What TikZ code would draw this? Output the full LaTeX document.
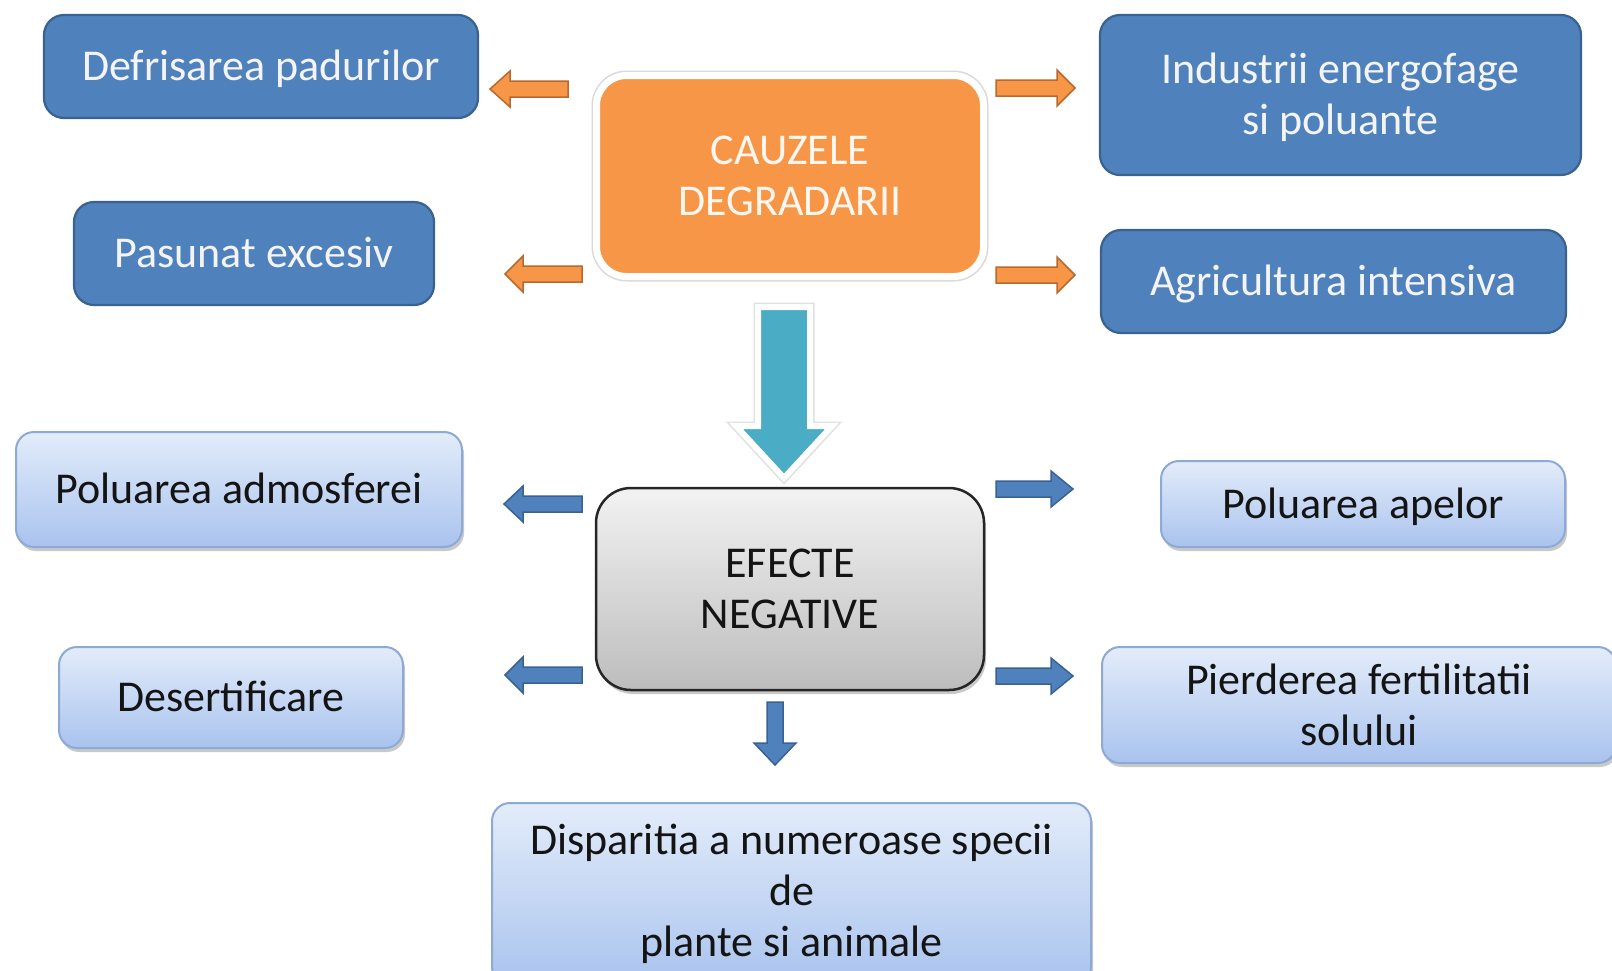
\documentclass[tikz,border=0pt]{standalone}
\usepackage{fontspec}
\setmainfont{Carlito}
\usetikzlibrary{shadows}
\definecolor{dkblue}{HTML}{4F81BD}
\definecolor{dkborder}{HTML}{3A6291}
\definecolor{lttop}{HTML}{E3ECFA}
\definecolor{ltbot}{HTML}{A9C3EE}
\definecolor{ltborder}{HTML}{8DA9D6}
\definecolor{orfill}{HTML}{F79646}
\definecolor{orborder}{HTML}{B9692F}
\definecolor{tealfill}{HTML}{4BACC6}
\definecolor{boxtext}{HTML}{F4F4F4}
\newcommand\diagfont{\fontsize{44}{51}\selectfont}
% horizontal block arrow: style, tail x, head base x, tip x, y
\newcommand\blockarrowH[5]{\draw[#1] (#2,#5-8) -- (#3,#5-8) -- (#3,#5-18) -- (#4,#5) -- (#3,#5+18) -- (#3,#5+8) -- (#2,#5+8) -- cycle;}
% vertical block arrow: style, tail y, head base y, tip y, x
\newcommand\blockarrowV[5]{\draw[#1] (#5-8,#2) -- (#5-8,#3) -- (#5-21,#3) -- (#5,#4) -- (#5+21,#3) -- (#5+8,#3) -- (#5+8,#2) -- cycle;}
\begin{document}
\begin{tikzpicture}[x=1pt,y=-1pt,
  box/.style={rectangle, inner sep=0pt, align=center, font=\diagfont},
  oneline/.style={execute at begin node={\rule{0pt}{40pt}}, execute at end node={\rule[-12pt]{0pt}{12pt}}},
  darkbox/.style={box, draw=dkborder, line width=2.2pt, fill=dkblue, rounded corners=20pt, text=boxtext},
  lightbox/.style={box, draw=ltborder, line width=2pt, top color=lttop, bottom color=ltbot, rounded corners=18pt, text=black!92,
    drop shadow={shadow xshift=2pt, shadow yshift=-4pt, opacity=.35, fill=black!60}},
  causebox/.style={box, fill=orfill, draw=white, line width=7pt, rounded corners=30pt, text=white!94!orange,
    preaction={draw=black!15, line width=10pt}},
  effectbox/.style={box, draw=black!85, line width=2.5pt, top color=black!5, bottom color=black!26, rounded corners=35pt, text=black!92,
    drop shadow={shadow xshift=2pt, shadow yshift=-4pt, opacity=.35, fill=black!60}},
  orarrow/.style={fill=orfill, draw=orborder, line width=1.5pt},
  bluearrow/.style={fill=dkblue, draw=dkborder, line width=1.5pt},
  tealarrow/.style={fill=tealfill, draw=white, line width=6pt, line join=miter,
    preaction={draw=black!12, line width=9pt, line join=miter},
    drop shadow={shadow xshift=1pt, shadow yshift=-3pt, opacity=.25, fill=black!60}}
]
\useasboundingbox (0,0) rectangle (1612,970);
\clip (0,0) rectangle (1612,970);
\fill[white] (0,0) rectangle (1612,970);

% causes
\node[darkbox, oneline, minimum width=434, minimum height=103] (defr) at (261,66.5) {Defrisarea padurilor};
\node[darkbox, oneline, minimum width=360, minimum height=103] (pasu) at (254,253.5) {Pasunat excesiv};
\node[darkbox, minimum width=481, minimum height=160] (indu) at (1340.5,95) {\rule{0pt}{36pt}Industrii energofage\\si poluante};
\node[darkbox, oneline, minimum width=465, minimum height=103] (agri) at (1333.5,281.5) {Agricultura intensiva};
\node[causebox, minimum width=387, minimum height=201] (cauz) at (790,176) {CAUZELE\\DEGRADARII};

% effects
\node[effectbox, minimum width=388, minimum height=202] (efec) at (790,589) {EFECTE\\NEGATIVE};
\node[lightbox, oneline, minimum width=446, minimum height=115] (polad) at (239,489.5) {Poluarea admosferei};
\node[lightbox, oneline, minimum width=344, minimum height=101] (dese) at (231,697.5) {Desertificare};
\node[lightbox, oneline, minimum width=404, minimum height=86] (polap) at (1363,504) {Poluarea apelor};
\node[lightbox, minimum width=514, minimum height=116] (pier) at (1359,705) {Pierderea fertilitatii\\solului};
\node[lightbox, minimum width=599, minimum height=182] (disp) at (791.5,894) {Disparitia a numeroase specii\\de\\plante si animale};

% orange arrows
\blockarrowH{orarrow}{568}{510}{490}{89}
\blockarrowH{orarrow}{582}{523}{505}{274}
\blockarrowH{orarrow}{996}{1057}{1075}{88}
\blockarrowH{orarrow}{996}{1057}{1075}{275}

% big teal arrow
\draw[tealarrow] (758,307) -- (758,426) -- (736,426) -- (784,478) -- (832,426) -- (810,426) -- (810,307) -- cycle;

% blue arrows
\blockarrowH{bluearrow}{582}{523}{504}{504}
\blockarrowH{bluearrow}{582}{523}{505}{675}
\blockarrowH{bluearrow}{996}{1051}{1073}{489}
\blockarrowH{bluearrow}{996}{1051}{1073}{676}
\blockarrowV{bluearrow}{702}{743}{765}{775}
\end{tikzpicture}
\end{document}
